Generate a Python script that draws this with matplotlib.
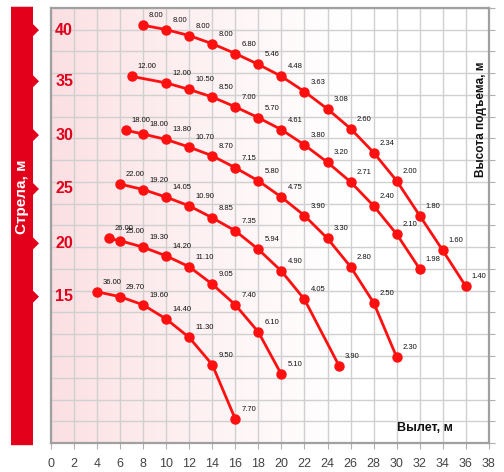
import numpy as np
import matplotlib.pyplot as plt
from matplotlib.patches import Polygon
from matplotlib import transforms

plt.rcParams['font.family'] = ['Liberation Sans', 'DejaVu Sans']

# boom lengths, m
booms = [40, 35, 30, 25, 20, 15]

# reach (m), lift height (m), load (t) for each boom
reach_40 = [8, 10, 12, 14, 16, 18, 20, 22, 24, 26, 28, 30, 32, 34, 36]
height_40 = [38.4, 38.0, 37.45, 36.7, 35.8, 34.8, 33.7, 32.3, 30.7, 28.9, 26.7, 24.1, 20.9, 17.7, 14.4]
load_40 = ['8.00', '8.00', '8.00', '8.00', '6.80', '5.46', '4.48', '3.63', '3.08', '2.60', '2.34', '2.00', '1.80', '1.60', '1.40']

reach_35 = [7, 10, 12, 14, 16, 18, 20, 22, 24, 26, 28, 30, 32]
height_35 = [33.7, 33.1, 32.5, 31.8, 30.9, 29.9, 28.8, 27.4, 25.8, 24.0, 21.8, 19.2, 16.0]
load_35 = ['12.00', '12.00', '10.50', '8.50', '7.00', '5.70', '4.61', '3.80', '3.20', '2.71', '2.40', '2.10', '1.98']

reach_30 = [6.5, 8, 10, 12, 14, 16, 18, 20, 22, 24, 26, 28, 30]
height_30 = [28.75, 28.4, 27.9, 27.2, 26.4, 25.3, 24.1, 22.6, 20.9, 18.8, 16.2, 12.9, 7.9]
load_30 = ['18.00', '18.00', '13.80', '10.70', '8.70', '7.15', '5.80', '4.75', '3.90', '3.30', '2.80', '2.50', '2.30']

reach_25 = [6, 8, 10, 12, 14, 16, 18, 20, 22, 25]
height_25 = [23.8, 23.3, 22.6, 21.8, 20.7, 19.5, 17.8, 15.8, 13.2, 7.1]
load_25 = ['22.00', '19.20', '14.05', '10.90', '8.85', '7.35', '5.94', '4.90', '4.05', '3.90']

reach_20 = [5, 6, 8, 10, 12, 14, 16, 18, 20]
height_20 = [18.8, 18.6, 18.0, 17.2, 16.2, 14.6, 12.7, 10.2, 6.3]
load_20 = ['26.00', '25.00', '19.30', '14.20', '11.10', '9.05', '7.40', '6.10', '5.10']

reach_15 = [4, 6, 8, 10, 12, 14, 16]
height_15 = [13.9, 13.45, 12.7, 11.4, 9.7, 7.2, 2.2]
load_15 = ['36.00', '29.70', '19.60', '14.40', '11.30', '9.50', '7.70']

curves = [
    (reach_40, height_40, load_40),
    (reach_35, height_35, load_35),
    (reach_30, height_30, load_30),
    (reach_25, height_25, load_25),
    (reach_20, height_20, load_20),
    (reach_15, height_15, load_15),
]

red = '#e2001a'

fig = plt.figure(figsize=(5.04, 4.72), dpi=100)
ax = fig.add_axes([0.101, 0.0614, 0.869, 0.922])
ax.set_xlim(0, 38)
ax.set_ylim(0, 40)

# pink gradient background
grad = np.zeros((2, 256, 4))
grad[..., 0] = 0.988
grad[..., 1] = 0.86
grad[..., 2] = 0.875
grad[..., 3] = np.linspace(0.9, 0.0, 256) ** 1.2
ax.imshow(grad, extent=[0, 26, 0, 40], aspect='auto', zorder=0, interpolation='bilinear')

ax.set_xticks(np.arange(0, 39, 2))
ax.set_yticks(np.arange(0, 41, 2))
ax.grid(True, color='#d0d0d0', linewidth=1.0, zorder=1)
ax.set_axisbelow(True)
ax.tick_params(axis='x', direction='out', length=4, color='#b0b0b0', labelsize=9,
               labelcolor='#444444', pad=7)
ax.tick_params(axis='y', left=False, labelleft=False, right=True, direction='out',
               length=4, color='#b0b0b0')
for s in ax.spines.values():
    s.set_color('#a0a0a0')
    s.set_linewidth(1.6)

for rx, hy, ld in curves:
    ax.plot(rx, hy, '-', color='#ff1010', linewidth=2, marker='o', markersize=6.5,
            zorder=4, clip_on=False)
    for x, y, t in zip(rx, hy, ld):
        ax.annotate(t, (x, y), xytext=(6, 6), textcoords='offset pixels',
                    fontsize=5.5, color='#111111', ha='left', va='bottom', zorder=5)

# red band with notches on the left
blend = transforms.blended_transform_factory(fig.transFigure, ax.transData)
x0, x1, xa = 11 / 504, 33 / 504, 39 / 504
ybot, ytop = -0.2, 40.1
pts = [(x0, ybot), (x0, ytop), (x1, ytop)]
label_h = [c[1][0] - 0.45 for c in curves]
for h in label_h:
    pts += [(x1, h + 0.55), (xa, h), (x1, h - 0.55)]
pts += [(x1, ybot)]
band = Polygon(pts, closed=True, transform=blend, facecolor=red, edgecolor='none',
               clip_on=False, zorder=3)
ax.add_patch(band)
ax.text(22 / 504, 22.6, 'Стрела, м', transform=blend, rotation=90, color='white',
        fontsize=11, fontweight='bold', ha='center', va='center')

for b, h in zip(booms, label_h):
    ax.text(1.15, h, str(b), color=red, fontsize=11.5, fontweight='bold',
            ha='center', va='center', zorder=5)

ax.text(37.35, 29.8, 'Высота подъема, м', rotation=90, fontsize=8.5, fontweight='bold',
        ha='center', va='center', color='#111111')
ax.text(30.0, 0.8, 'Вылет, м', fontsize=9, fontweight='bold', ha='left',
        va='bottom', color='#111111')

fig.savefig('out.png', dpi=100)
